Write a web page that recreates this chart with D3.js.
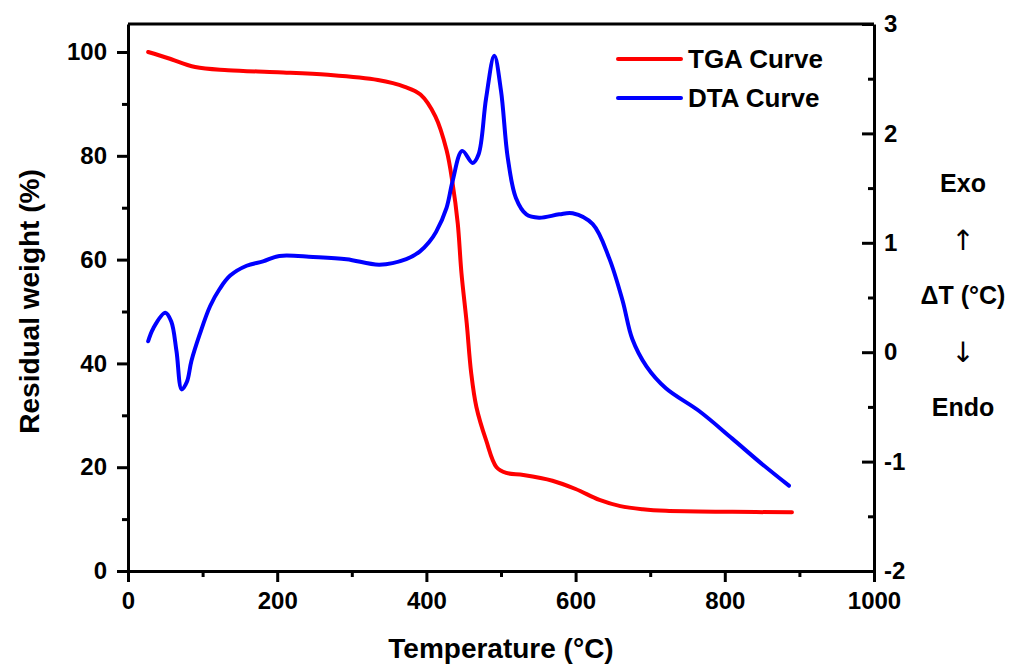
<!DOCTYPE html>
<html>
<head>
<meta charset="utf-8">
<script src="https://cdn.jsdelivr.net/npm/d3@7"></script>
<style>
  html, body { margin: 0; padding: 0; background: #fff; }
  svg { display: block; font-family: "Liberation Sans", Arial, sans-serif; font-weight: bold; }
  .axis path, .axis line { stroke: #000; stroke-width: 3; }
  .axis text { font-size: 24px; font-weight: bold; fill: #000; font-family: "Liberation Sans", Arial, sans-serif; }
</style>
</head>
<body>
<svg id="chart" width="1010" height="664"></svg>
<script>
// ---- Data ----
const tgaTemp   = [27, 54, 90, 134, 201, 268, 335, 371, 392, 412, 427, 435, 442, 447, 454, 460, 467, 480, 494, 507, 530, 569, 600, 632, 660, 690, 721, 810, 890];
const tgaWeight = [100, 98.8, 97.1, 96.5, 96.1, 95.6, 94.6, 93.3, 91.8, 87.6, 81.1, 74.8, 67.0, 57.4, 47.8, 38.2, 31.6, 25.2, 20.0, 18.9, 18.5, 17.4, 15.8, 13.7, 12.5, 11.9, 11.6, 11.4, 11.3];

const dtaTemp  = [27, 34, 50, 58, 65, 72, 79, 85, 96, 110, 123, 137, 159, 181, 203, 248, 293, 337, 373, 391, 404, 413, 427, 435, 448, 462, 470, 480, 491, 500, 509, 520, 534, 551, 578, 596, 623, 645, 663, 676, 695, 721, 766, 810, 846, 886];
const dtaValue = [0.10, 0.22, 0.36, 0.28, 0.01, -0.34, -0.27, -0.08, 0.16, 0.42, 0.58, 0.70, 0.79, 0.83, 0.88, 0.87, 0.85, 0.80, 0.85, 0.92, 1.01, 1.10, 1.32, 1.56, 1.84, 1.73, 1.81, 2.32, 2.71, 2.39, 1.78, 1.41, 1.26, 1.23, 1.26, 1.27, 1.17, 0.86, 0.47, 0.12, -0.13, -0.33, -0.54, -0.79, -1.00, -1.22];

const xTicks = [0, 200, 400, 600, 800, 1000];
const xMinorTicks = [100, 300, 500, 700, 900];
const yLeftTicks = [0, 20, 40, 60, 80, 100];
const yLeftMinorTicks = [10, 30, 50, 70, 90];
const yRightTicks = [-2, -1, 0, 1, 2, 3];
const yRightMinorTicks = [-1.5, -0.5, 0.5, 1.5, 2.5];

const seriesNames = ["TGA Curve", "DTA Curve"];
const seriesColors = ["#ff0000", "#0000ff"];
const sideLabels = ["Exo", "\u2191", "\u0394T (\u00B0C)", "\u2193", "Endo"];

// ---- Layout ----
const pLeft = 128, pRight = 874, pTop = 24, pBottom = 571;
const svg = d3.select("#chart");

const x = d3.scaleLinear().domain([0, 1000]).range([pLeft, pRight]);
const yL = d3.scaleLinear().domain([0, 105.4]).range([pBottom, pTop]);
const yR = d3.scaleLinear().domain([-2, 3]).range([pBottom, pTop]);
const fmt = d => String(d);

// top border
svg.append("line").attr("x1", pLeft).attr("x2", pRight).attr("y1", pTop).attr("y2", pTop)
  .attr("stroke", "#000").attr("stroke-width", 3);

// bottom axis
svg.append("g").attr("class", "axis").attr("transform", `translate(0,${pBottom})`)
  .call(d3.axisBottom(x).tickValues(xTicks).tickSizeInner(11).tickSizeOuter(0).tickPadding(10).tickFormat(fmt));
svg.append("g").attr("class", "axis").attr("transform", `translate(0,${pBottom})`)
  .call(d3.axisBottom(x).tickValues(xMinorTicks).tickSizeInner(6).tickSizeOuter(0).tickFormat(""))
  .select(".domain").remove();

// left axis
svg.append("g").attr("class", "axis").attr("transform", `translate(${pLeft},0)`)
  .call(d3.axisLeft(yL).tickValues(yLeftTicks).tickSizeInner(11).tickSizeOuter(0).tickPadding(10).tickFormat(fmt));
svg.append("g").attr("class", "axis").attr("transform", `translate(${pLeft},0)`)
  .call(d3.axisLeft(yL).tickValues(yLeftMinorTicks).tickSizeInner(6).tickSizeOuter(0).tickFormat(""))
  .select(".domain").remove();

// right axis (ticks inward)
svg.append("g").attr("class", "axis").attr("transform", `translate(${pRight},0)`)
  .call(d3.axisRight(yR).tickValues(yRightTicks).tickSizeInner(-12).tickSizeOuter(0).tickPadding(10).tickFormat(fmt));
svg.append("g").attr("class", "axis").attr("transform", `translate(${pRight},0)`)
  .call(d3.axisRight(yR).tickValues(yRightMinorTicks).tickSizeInner(-6).tickSizeOuter(0).tickFormat(""))
  .select(".domain").remove();

// axis titles
svg.append("text").attr("x", (pLeft + pRight) / 2).attr("y", 658)
  .attr("text-anchor", "middle").attr("font-size", 28).text("Temperature (\u00B0C)");
svg.append("text").attr("transform", `translate(39,${(pTop + pBottom) / 2 + 4}) rotate(-90)`)
  .attr("text-anchor", "middle").attr("font-size", 28).text("Residual weight (%)");

// side labels
const sideY = [183, 240, 295, 352, 407];
sideLabels.forEach((t, i) => {
  const isArrow = t === "\u2191" || t === "\u2193";
  svg.append("text").attr("x", 963).attr("y", sideY[i]).attr("dy", "0.35em")
    .attr("text-anchor", "middle").attr("font-size", isArrow ? 28 : 25)
    .attr("font-weight", isArrow ? "normal" : "bold")
    .attr("font-family", isArrow ? "'DejaVu Sans', sans-serif" : null)
    .text(t);
});

// curves
const tgaData = tgaTemp.map((t, i) => [t, tgaWeight[i]]);
const dtaData = dtaTemp.map((t, i) => [t, dtaValue[i]]);

svg.append("path").datum(tgaData)
  .attr("fill", "none").attr("stroke", seriesColors[0]).attr("stroke-width", 4)
  .attr("stroke-linecap", "round").attr("stroke-linejoin", "round")
  .attr("d", d3.line().x(d => x(d[0])).y(d => yL(d[1])).curve(d3.curveCatmullRom.alpha(0.5)));

svg.append("path").datum(dtaData)
  .attr("fill", "none").attr("stroke", seriesColors[1]).attr("stroke-width", 4)
  .attr("stroke-linecap", "round").attr("stroke-linejoin", "round")
  .attr("d", d3.line().x(d => x(d[0])).y(d => yR(d[1])).curve(d3.curveCatmullRom.alpha(0.5)));

// legend
const legY = [59, 98];
seriesNames.forEach((name, i) => {
  svg.append("line").attr("x1", 618).attr("x2", 681).attr("y1", legY[i]).attr("y2", legY[i])
    .attr("stroke", seriesColors[i]).attr("stroke-width", 4).attr("stroke-linecap", "round");
  svg.append("text").attr("x", 688).attr("y", legY[i]).attr("dy", "0.36em")
    .attr("font-size", 26).text(name);
});
</script>
</body>
</html>
